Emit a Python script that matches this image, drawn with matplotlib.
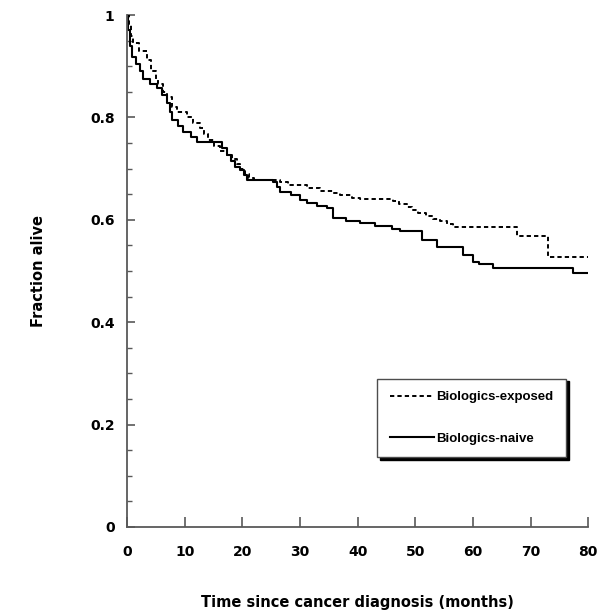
import matplotlib.pyplot as plt
import numpy as np

# Kaplan-Meier style survival, months since cancer diagnosis
exposed_t = [0, 0.3, 0.7, 1.0, 2.0, 3.4, 4.2, 5.0, 5.4, 6.2, 6.9, 7.8, 8.6, 10.4, 11.5,
             12.7, 13.4, 14.0, 15.0, 16.2, 17.4, 18.2, 19.0, 19.6, 20.4, 21.2, 22.0,
             26.6, 28.0, 31.2, 33.5, 35.8, 37.0, 39.0, 40.4, 46.2, 47.2, 48.5, 49.5,
             50.5, 51.8, 53.0, 54.2, 55.5, 56.6, 67.7, 73.1, 80]
exposed_s = [1.0, 0.98, 0.96, 0.945, 0.93, 0.912, 0.89, 0.875, 0.865, 0.85, 0.84, 0.82,
             0.81, 0.80, 0.79, 0.78, 0.768, 0.756, 0.744, 0.735, 0.727, 0.718, 0.71,
             0.70, 0.69, 0.682, 0.678, 0.674, 0.668, 0.662, 0.657, 0.652, 0.648, 0.643,
             0.64, 0.636, 0.63, 0.625, 0.619, 0.613, 0.607, 0.602, 0.597, 0.591, 0.587,
             0.569, 0.527, 0.527]

naive_t = [0, 0.2, 0.5, 0.9, 1.5, 2.2, 2.8, 4.0, 5.2, 6.0, 6.9, 7.4, 7.8, 8.8, 9.7,
           11.0, 12.1, 16.5, 17.4, 18.0, 18.7, 19.6, 20.2, 20.8, 25.3, 26.0, 26.6,
           28.5, 30.0, 31.2, 33.0, 34.7, 35.8, 38.0, 40.4, 43.0, 46.0, 47.4, 51.2,
           53.8, 58.2, 60.0, 61.0, 63.5, 77.3, 80]
naive_s = [1.0, 0.97, 0.94, 0.918, 0.905, 0.89, 0.875, 0.865, 0.857, 0.843, 0.828,
           0.81, 0.795, 0.783, 0.772, 0.762, 0.752, 0.74, 0.727, 0.715, 0.703, 0.697,
           0.688, 0.678, 0.674, 0.664, 0.654, 0.648, 0.639, 0.633, 0.628, 0.623, 0.603,
           0.598, 0.594, 0.588, 0.582, 0.578, 0.56, 0.546, 0.531, 0.518, 0.514, 0.506,
           0.496, 0.496]

labels = ['Biologics-exposed', 'Biologics-naive']

plt.rcParams['font.family'] = ['DejaVu Sans']

fig = plt.figure(figsize=(6.14, 6.16), dpi=100)
ax = fig.add_axes([0.207, 0.1445, 0.751, 0.831])

ax.plot(exposed_t, exposed_s, drawstyle='steps-post', color='black', lw=1.4,
        linestyle=(0, (2.2, 1.6)), label=labels[0])
ax.plot(naive_t, naive_s, drawstyle='steps-post', color='black', lw=1.5,
        label=labels[1])

ax.set_xlim(0, 80)
ax.set_ylim(0, 1)
ax.set_xticks(np.arange(0, 81, 10))
ax.set_yticks([0, 0.2, 0.4, 0.6, 0.8, 1])
ax.set_yticklabels(['0', '0.2', '0.4', '0.6', '0.8', '1'])
ax.set_yticks(np.arange(0, 1.0001, 0.05), minor=True)

for side in ['top', 'right']:
    ax.spines[side].set_visible(False)
for side in ['left', 'bottom']:
    ax.spines[side].set_color('0.35')
    ax.spines[side].set_linewidth(1.3)

ax.tick_params(axis='x', which='major', direction='in', length=7, width=1.2,
               color='0.35', labelsize=10, pad=13)
ax.tick_params(axis='y', which='major', direction='in', length=6, width=1.2,
               color='0.35', labelsize=10, pad=9)
ax.tick_params(axis='y', which='minor', direction='in', length=3.8, width=1.0,
               color='0.35')
for lab in ax.get_xticklabels() + ax.get_yticklabels():
    lab.set_fontweight('bold')

ax.set_xlabel('Time since cancer diagnosis (months)', fontsize=10.5, fontweight='bold',
              labelpad=26)
ax.set_ylabel('Fraction alive', fontsize=10.5, fontweight='bold', labelpad=32)

leg = ax.legend(loc='center', bbox_to_anchor=(0.747, 0.213), frameon=True,
                fancybox=False, shadow={'color': 'black', 'alpha': 1}, edgecolor='0.3',
                handlelength=3.4, handletextpad=0.15, labelspacing=2.2,
                borderpad=0.95, prop={'family': 'Liberation Sans', 'weight': 'bold',
                                      'size': 9.5})
leg.get_frame().set_linewidth(1.0)

fig.savefig('out.png', dpi=100)
